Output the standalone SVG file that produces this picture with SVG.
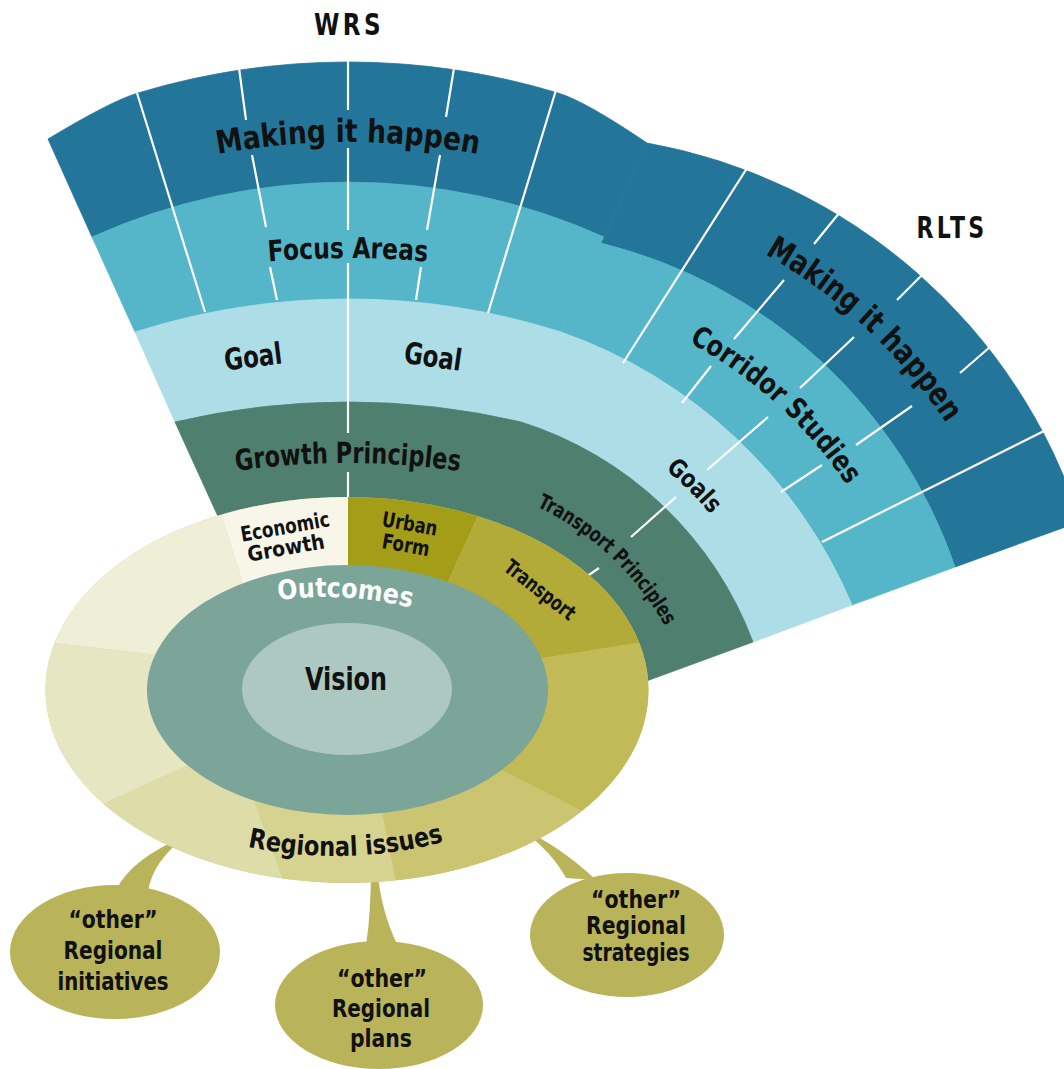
<svg xmlns="http://www.w3.org/2000/svg" width="1064" height="1069" viewBox="0 0 1064 1069">
<defs>
<style>
text{font-family:"Liberation Sans Narrow","DejaVu Sans Condensed","Roboto Condensed","Liberation Sans",sans-serif;font-weight:bold;fill:#111;}
.mid{text-anchor:middle}
.db{fill:#237699;stroke:#237699;stroke-width:0.8}
.tl{fill:#54b6c8;stroke:#54b6c8;stroke-width:0.8}
.lb{fill:#addde6;stroke:#addde6;stroke-width:0.8}
.dg{fill:#4f7f6f;stroke:#4f7f6f;stroke-width:0.8}
.sep{stroke:#ffffff;stroke-width:2.2;fill:none}
.bub{fill:#b9b45a}
</style>
<clipPath id="ringClip"><ellipse cx="347" cy="690" rx="301.5" ry="193"/></clipPath>
<path id="pWM" d="M-102,305.8 A700,700 0 0 1 798,305.8"/>
<path id="pWF" d="M40.2,312.3 A900,900 0 0 1 655.8,312.3"/>
<path id="pWG" d="M16.7,536.5 A784,784 0 0 1 679.3,536.5"/>
<path id="pRM" d="M546.7,186 A536,536 0 0 1 1029.4,636.2"/>
<path id="pRC" d="M514.3,292.1 A438,438 0 0 1 914.5,653.7"/>
<path id="pRG" d="M411,376 A394,394 0 0 1 805,768.6"/>
<path id="pRT" d="M411,478 A292,292 0 0 1 702.3,749.6"/>
<path id="pOut" d="M100,678.9 A350,350 0 0 1 550,678.9"/>
<path id="pReg" d="M125,799.7 A420,420 0 0 0 545,799.7"/>
</defs>
<rect width="1064" height="1069" fill="#ffffff"/>

<g id="wrs-making-it-happen">
<path class="db" d="M48,139 Q111,101 138,93 A727,727 0 0 1 558,93 Q585,101 647,143 L604,237 A625,625 0 0 0 92,237 Z"/>
</g>
<g id="wrs-focus-areas">
<path class="tl" d="M92,237 A625,625 0 0 1 604,237 L561,332 A703,703 0 0 0 135,332 Z"/>
</g>
<g id="wrs-goals">
<path class="lb" d="M135,332 A703,703 0 0 1 561,332 L521,422 A758,758 0 0 0 175,422 Z"/>
</g>
<g id="wrs-growth-principles">
<path class="dg" d="M175,422 A758,758 0 0 1 521,422 L348,802 Z"/>
</g>

<g id="rlts-making-it-happen">
<path class="db" d="M647,143 A560,560 0 0 1 1080.6,521.4 L955,567 A500,500 0 0 0 601.4,243.3 Z"/>
</g>
<g id="rlts-corridor-studies">
<path class="tl" d="M601.4,243.3 A500,500 0 0 1 955,567 L852,605 A492,492 0 0 0 561.2,332.1 Z"/>
</g>
<g id="rlts-goals">
<path class="lb" d="M561.2,332.1 A492,492 0 0 1 852,605 L753,642 A365,365 0 0 0 520.5,421.8 Z"/>
</g>
<g id="rlts-transport-principles">
<path class="dg" d="M520.5,421.8 A365,365 0 0 1 753,642 L354,788 Z"/>
</g>

<g id="connectors">
<path class="sep" d="M137,93 L205,312"/>
<path class="sep" d="M239,68 L246,120 M252,155 L266,227 M270,267 L277,300"/>
<path class="sep" d="M348,58 L348,110 M348,148 L348,230 M348,263 L348,433 M348,472 L348,498"/>
<path class="sep" d="M454,68 L446,117 M440,155 L427,230 M421,267 L416,300"/>
<path class="sep" d="M556,90 L488,313"/>
<path class="sep" d="M749,165 L623,363"/>
<path class="sep" d="M840,212 L814,244 M784,280 L734,339 M711,366 L682,403"/>
<path class="sep" d="M924,273 L897,300 M854,337 L800,388 M768,417 L707,470 M676,497 L631,537 M599,568 L586,577"/>
<path class="sep" d="M990,347 L960,373 M912,406 L856,445 M822,465 L781,492"/>
<path class="sep" d="M1046,430 L822,542"/>
</g>

<g id="bubble-initiatives">
<path class="bub" d="M116,890 Q132,858 186,836 Q152,862 148,892 Z"/>
<ellipse class="bub" cx="115" cy="952" rx="105" ry="67"/>
<text class="mid" x="113" y="928" font-size="25" textLength="89" lengthAdjust="spacingAndGlyphs">“other”</text>
<text class="mid" x="113" y="959" font-size="25" textLength="99" lengthAdjust="spacingAndGlyphs">Regional</text>
<text class="mid" x="113" y="990" font-size="25" textLength="111" lengthAdjust="spacingAndGlyphs">initiatives</text>
</g>
<g id="bubble-plans">
<path class="bub" d="M366,946 Q371,912 371,868 L377,868 Q381,912 398,946 Z"/>
<ellipse class="bub" cx="379" cy="1005" rx="104" ry="64"/>
<text class="mid" x="382" y="987" font-size="25" textLength="90" lengthAdjust="spacingAndGlyphs">“other”</text>
<text class="mid" x="381" y="1017" font-size="25" textLength="98" lengthAdjust="spacingAndGlyphs">Regional</text>
<text class="mid" x="381" y="1047" font-size="25" textLength="62" lengthAdjust="spacingAndGlyphs">plans</text>
</g>
<g id="bubble-strategies">
<path class="bub" d="M566,878 Q552,852 520,828 Q560,846 596,880 Z"/>
<ellipse class="bub" cx="627" cy="935" rx="97" ry="62"/>
<text class="mid" x="636" y="908" font-size="25" textLength="90" lengthAdjust="spacingAndGlyphs">“other”</text>
<text class="mid" x="636" y="934" font-size="25" textLength="100" lengthAdjust="spacingAndGlyphs">Regional</text>
<text class="mid" x="636" y="961" font-size="25" textLength="107" lengthAdjust="spacingAndGlyphs">strategies</text>
</g>

<g id="regional-issues">
<g clip-path="url(#ringClip)">
<ellipse cx="347" cy="690" rx="302" ry="194" fill="#d0cb80"/>
<path fill="#a49d18" d="M348,606 L348,463 L451.8,398 L490.5,488.5 L433.8,612.4 L347,690 Z"/>
<path fill="#b2ab37" d="M433.8,612.4 L490.5,488.5 L683.8,514.8 L685.5,635.5 L486,667 L347,690 Z"/>
<path fill="#c1ba56" d="M486,667 L685.5,635.5 L766.2,748.4 L616.5,828.5 L463.2,750.8 L347,690 Z"/>
<path fill="#cbc572" d="M463.2,750.8 L616.5,828.5 L571.8,935.6 L401,907 L375.8,781 L347,690 Z"/>
<path fill="#d6d290" d="M375.8,781 L401,907 L334.2,991.6 L294.5,911.5 L246.2,779.2 L347,690 Z"/>
<path fill="#dedca8" d="M246.2,779.2 L294.5,911.5 L103.8,931.6 L72,818 L219,750.8 L347,690 Z"/>
<path fill="#e7e6c2" d="M219,750.8 L72,818 L-80,742 L0.5,637 L221,662.2 L347,690 Z"/>
<path fill="#efeed7" d="M221,662.2 L0.5,637 L11.8,514 L214,491.5 L247.6,598.6 L347,690 Z"/>
<path fill="#f7f6e8" d="M247.6,598.6 L214,491.5 L247.8,397.2 L348,463 L348,606 L347,690 Z"/>
</g>
<text font-size="27"><textPath href="#pReg" startOffset="230.9" text-anchor="middle" textLength="198" lengthAdjust="spacingAndGlyphs">Regional issues</textPath></text>
</g>
<g id="economic-growth">
<text class="mid" x="285" y="534" font-size="21" transform="rotate(-10 285 527)" textLength="90" lengthAdjust="spacingAndGlyphs">Economic</text>
<text class="mid" x="286" y="555" font-size="21" transform="rotate(-10 286 548)" textLength="78" lengthAdjust="spacingAndGlyphs">Growth</text>
</g>
<g id="urban-form">
<text x="381" y="526" font-size="21" transform="rotate(10 381 526)" textLength="56" lengthAdjust="spacingAndGlyphs">Urban</text>
<text x="381" y="548" font-size="21" transform="rotate(10 381 548)" textLength="48" lengthAdjust="spacingAndGlyphs">Form</text>
</g>
<g id="transport">
<text class="mid" x="0" y="7" font-size="21" transform="translate(540 590) rotate(38)" textLength="84" lengthAdjust="spacingAndGlyphs">Transport</text>
</g>

<g id="outcomes">
<ellipse cx="347.5" cy="690" rx="200.5" ry="125" fill="#7aa598"/>
<text font-size="27" style="fill:#ffffff"><textPath href="#pOut" startOffset="264.4" text-anchor="middle" textLength="134" lengthAdjust="spacingAndGlyphs">Outcomes</textPath></text>
</g>
<g id="vision">
<ellipse cx="347" cy="689" rx="105" ry="66" fill="#adc8c1"/>
<text class="mid" x="346" y="690" font-size="32" textLength="82" lengthAdjust="spacingAndGlyphs">Vision</text>
</g>

<g id="labels">
<text class="mid" x="349" y="35" font-size="30" textLength="70" lengthAdjust="spacingAndGlyphs" letter-spacing="4">WRS</text>
<text class="mid" x="952" y="238" font-size="30" textLength="71" lengthAdjust="spacingAndGlyphs" letter-spacing="4">RLTS</text>
<text font-size="32"><textPath href="#pWM" startOffset="50%" text-anchor="middle" textLength="262" lengthAdjust="spacingAndGlyphs">Making it happen</textPath></text>
<text font-size="29"><textPath href="#pWF" startOffset="50%" text-anchor="middle" textLength="159" lengthAdjust="spacingAndGlyphs">Focus Areas</textPath></text>
<text class="mid" x="253" y="367" font-size="30" transform="rotate(-7 253 357)" textLength="58" lengthAdjust="spacingAndGlyphs">Goal</text>
<text class="mid" x="433" y="367" font-size="30" transform="rotate(8 433 357)" textLength="58" lengthAdjust="spacingAndGlyphs">Goal</text>
<text font-size="29"><textPath href="#pWG" startOffset="50%" text-anchor="middle" textLength="224" lengthAdjust="spacingAndGlyphs">Growth Principles</textPath></text>
<text font-size="32"><textPath href="#pRM" startOffset="50%" text-anchor="middle" textLength="250" lengthAdjust="spacingAndGlyphs">Making it happen</textPath></text>
<text font-size="29"><textPath href="#pRC" startOffset="50%" text-anchor="middle" textLength="215" lengthAdjust="spacingAndGlyphs">Corridor Studies</textPath></text>
<text font-size="25"><textPath href="#pRG" startOffset="50%" text-anchor="middle" textLength="64" lengthAdjust="spacingAndGlyphs">Goals</textPath></text>
<text font-size="21"><textPath href="#pRT" startOffset="50%" text-anchor="middle" textLength="178" lengthAdjust="spacingAndGlyphs">Transport Principles</textPath></text>
</g>
</svg>
